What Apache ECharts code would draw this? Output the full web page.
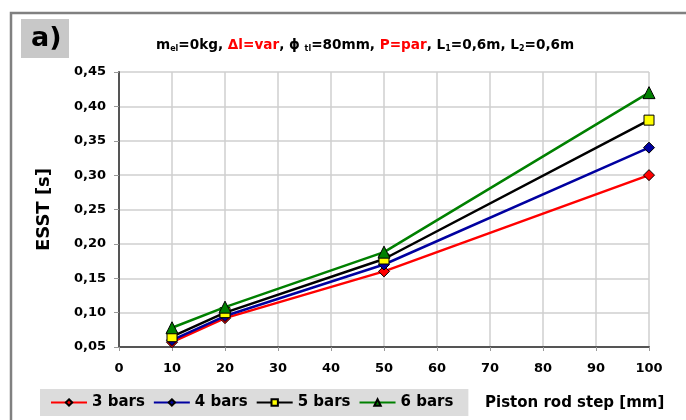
<!DOCTYPE html>
<html>
<head>
<meta charset="utf-8">
<script src="https://cdn.jsdelivr.net/npm/echarts@6/dist/echarts.min.js"></script>
<style>
  html, body { margin: 0; padding: 0; background: #fff; }
  #chart { width: 686px; height: 420px; }
</style>
</head>
<body>
<div id="chart"></div>
<script>
// data
var steps = [10, 20, 50, 100];
var bars3 = [0.057, 0.092, 0.160, 0.300];
var bars4 = [0.060, 0.095, 0.170, 0.340];
var bars5 = [0.065, 0.100, 0.178, 0.380];
var bars6 = [0.078, 0.108, 0.188, 0.420];
var seriesNames = ['3 bars', '4 bars', '5 bars', '6 bars'];

function pairs(ys) {
    return steps.map(function (x, i) { return [x, ys[i]]; });
}
function comma(v, d) {
    return v.toFixed(d).replace('.', ',');
}

var FONT = 'DejaVu Sans';
var lineColors = ['#ff0000', '#0000a0', '#000000', '#008000'];
var fillColors = ['#ff0000', '#0000a0', '#ffff00', '#008000'];
var symbols = ['diamond', 'diamond', 'rect', 'triangle'];
var symbolSizes = [11, 11, 10, 12];
var allData = [bars3, bars4, bars5, bars6];

var series = allData.map(function (d, i) {
    return {
        name: seriesNames[i],
        type: 'line',
        data: pairs(d),
        symbol: symbols[i],
        symbolSize: symbolSizes[i],
        z: 3 + i,
        lineStyle: { color: lineColors[i], width: 2.5 },
        itemStyle: { color: fillColors[i], borderColor: '#000', borderWidth: 1 }
    };
});

var chart = echarts.init(document.getElementById('chart'));
chart.setOption({
    animation: false,
    textStyle: { fontFamily: FONT },
    graphic: [
        { type: 'rect', shape: { x: 11, y: 13, width: 700, height: 420 },
          style: { fill: 'none', stroke: '#808080', lineWidth: 2.5 }, z: -1 },
        { type: 'rect', shape: { x: 21, y: 19, width: 48, height: 39 },
          style: { fill: '#c8c8c8' } },
        { type: 'text', left: 31, top: 25,
          style: { text: 'a)', font: 'bold 27px DejaVu Sans', fill: '#000' } },
        { type: 'text', left: 485, top: 396,
          style: { text: 'Piston rod step [mm]', font: 'bold 15px DejaVu Sans', fill: '#000' } }
    ],
    title: {
        text: '{t|m}{s|el}{t|=0kg, }{r|\u0394l=var}{t|, \u03d5 }{s|tl}{t|=80mm, }{r|P=par}{t|, L}{s|1}{t|=0,6m, L}{s|2}{t|=0,6m}',
        left: 151, top: 33,
        textStyle: {
            rich: {
                t: { fontSize: 13.6, fontWeight: 'bold', color: '#000', fontFamily: FONT },
                r: { fontSize: 13.6, fontWeight: 'bold', color: '#ff0000', fontFamily: FONT },
                s: { fontSize: 8, fontWeight: 'bold', color: '#000', fontFamily: FONT, verticalAlign: 'bottom', padding: [7, 0, 0, 0] }
            }
        }
    },
    legend: {
        data: seriesNames,
        left: 40, top: 389,
        width: 440,
        itemGap: 8,
        itemWidth: 36,
        itemHeight: 8,
        padding: [6, 15, 6, 10],
        backgroundColor: '#dcdcdc',
        textStyle: { fontSize: 15, fontWeight: 'bold', color: '#000', fontFamily: FONT }
    },
    grid: { left: 119, right: 37, top: 72, bottom: 73 },
    xAxis: {
        type: 'value',
        min: 0, max: 100, interval: 10,
        axisLine: { lineStyle: { color: '#555', width: 2 } },
        axisTick: { show: true, length: 4, lineStyle: { color: '#999' } },
        axisLabel: { fontSize: 13, fontWeight: 'bold', color: '#000', margin: 15, fontFamily: FONT },
        splitLine: { show: true, lineStyle: { color: '#cfcfcf', width: 1.5 } }
    },
    yAxis: {
        type: 'value',
        min: 0.05, max: 0.45, interval: 0.05,
        name: 'ESST [s]',
        nameLocation: 'middle',
        nameRotate: 90,
        nameGap: 66,
        nameTextStyle: { fontSize: 18, fontWeight: 'bold', color: '#000', fontFamily: FONT },
        axisLine: { show: true, lineStyle: { color: '#555', width: 2 } },
        axisTick: { show: true, length: 5, lineStyle: { color: '#999' } },
        axisLabel: { fontSize: 13, fontWeight: 'bold', color: '#000', margin: 13, fontFamily: FONT,
                     formatter: function (v) { return comma(v, 2); } },
        splitLine: { show: true, lineStyle: { color: '#cfcfcf', width: 1.5 } }
    },
    series: series
});
</script>
</body>
</html>
